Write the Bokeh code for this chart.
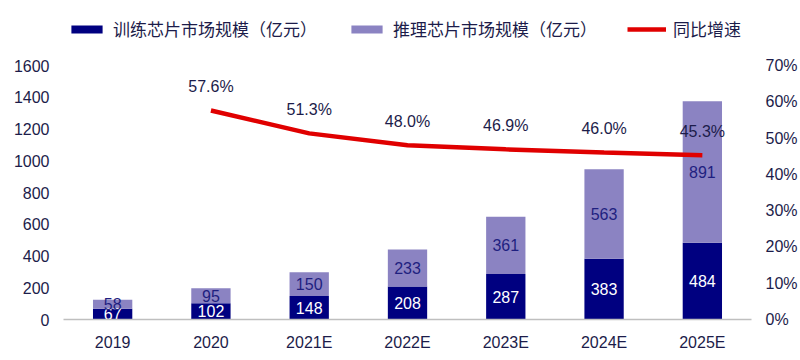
from bokeh.plotting import figure
from bokeh.models import (ColumnDataSource, FactorRange, Range1d, LinearAxis,
                          NumeralTickFormatter, Legend, LegendItem, FixedTicker)
from bokeh.core.properties import value
from bokeh.embed import file_html
from bokeh.resources import INLINE

# ---- data ----
years = ["2019", "2020", "2021E", "2022E", "2023E", "2024E", "2025E"]
training = [67, 102, 148, 208, 287, 383, 484]
inference = [58, 95, 150, 233, 361, 563, 891]
growth_years = ["2020", "2021E", "2022E", "2023E", "2024E", "2025E"]
growth = [0.576, 0.513, 0.480, 0.469, 0.460, 0.453]
left_ticks = [0, 200, 400, 600, 800, 1000, 1200, 1400, 1600]
right_ticks = [0, 0.1, 0.2, 0.3, 0.4, 0.5, 0.6, 0.7]

NAVY = "#000080"
LAV = "#8B83C2"
RED = "#E00000"
TXT = "#1C1C4A"

# frame extends above the 1600 tick to leave room for the legend
LEFT_MAX = 1978
RIGHT_MAX = 0.8654

src = ColumnDataSource(dict(
    year=years,
    tr_top=training,
    total=[a + b for a, b in zip(training, inference)],
    tr_mid=[a / 2 for a in training],
    inf_mid=[a + b / 2 for a, b in zip(training, inference)],
    tr_lab=[str(v) for v in training],
    inf_lab=[str(v) for v in inference],
))
gsrc = ColumnDataSource(dict(
    year=growth_years,
    g=growth,
    lab=["%.1f%%" % (v * 100) for v in growth],
))

p = figure(x_range=FactorRange(factors=years, range_padding=0),
           y_range=Range1d(0, LEFT_MAX),
           width=800, height=360,
           output_backend="svg", toolbar_location=None,
           min_border_left=63, min_border_right=43,
           min_border_top=5, min_border_bottom=41)
p.outline_line_color = None
p.xgrid.visible = False
p.ygrid.visible = False
p.background_fill_color = "white"
p.border_fill_color = "white"

p.extra_y_ranges = {"g": Range1d(0, RIGHT_MAX)}

r_tr = p.vbar(x="year", bottom=0, top="tr_top", width=0.4, source=src,
              fill_color=NAVY, line_color=None)
r_inf = p.vbar(x="year", bottom="tr_top", top="total", width=0.4, source=src,
               fill_color=LAV, line_color=None)
r_line = p.line(x="year", y="g", source=gsrc, y_range_name="g",
                line_color=RED, line_width=4.5)

# bar labels
p.text(x="year", y="tr_mid", text="tr_lab", source=src,
       text_align="center", text_baseline="middle",
       text_font=value("Liberation Sans"), text_font_size="16px",
       text_color="white")
p.text(x="year", y="inf_mid", text="inf_lab", source=src,
       text_align="center", text_baseline="middle",
       text_font=value("Liberation Sans"), text_font_size="16px",
       text_color="#1F1F80")
# growth labels
p.text(x="year", y="g", text="lab", source=gsrc, y_range_name="g",
       text_align="center", text_baseline="middle", y_offset=-24,
       text_font=value("Liberation Sans"), text_font_size="16px",
       text_color=TXT)

# axes
xa = p.xaxis[0]
xa.axis_line_color = "#BFBFBF"
xa.axis_line_width = 1.5
xa.major_tick_line_color = None
xa.minor_tick_line_color = None
xa.major_label_text_font = "Liberation Sans"
xa.major_label_text_font_size = "16px"
xa.major_label_text_color = TXT
xa.major_label_standoff = 8

ya = p.yaxis[0]
ya.ticker = FixedTicker(ticks=left_ticks)
ya.axis_line_color = None
ya.major_tick_line_color = None
ya.minor_tick_line_color = None
ya.major_label_text_font = "Liberation Sans"
ya.major_label_text_font_size = "16px"
ya.major_label_text_color = TXT
ya.major_label_standoff = 8

ra = LinearAxis(y_range_name="g", ticker=FixedTicker(ticks=right_ticks),
                formatter=NumeralTickFormatter(format="0%"))
ra.axis_line_color = None
ra.major_tick_line_color = None
ra.minor_tick_line_color = None
ra.major_label_text_font = "Liberation Sans"
ra.major_label_text_font_size = "16px"
ra.major_label_text_color = TXT
ra.major_label_standoff = 8
p.add_layout(ra, "right")

legend = Legend(items=[
    LegendItem(label="训练芯片市场规模（亿元）", renderers=[r_tr]),
    LegendItem(label="推理芯片市场规模（亿元）", renderers=[r_inf]),
    LegendItem(label="同比增速", renderers=[r_line]),
], orientation="horizontal", location=(4, 278))
legend.border_line_color = None
legend.background_fill_alpha = 0
legend.padding = 0
legend.margin = 0
legend.spacing = 30
legend.glyph_width = 39
legend.glyph_height = 10
legend.label_height = 20
legend.label_standoff = 7
legend.label_text_font = "Noto Sans CJK SC"
legend.label_text_font_size = "17px"
legend.label_text_color = TXT
p.add_layout(legend)

open("out.html", "w").write(file_html(p, INLINE))
